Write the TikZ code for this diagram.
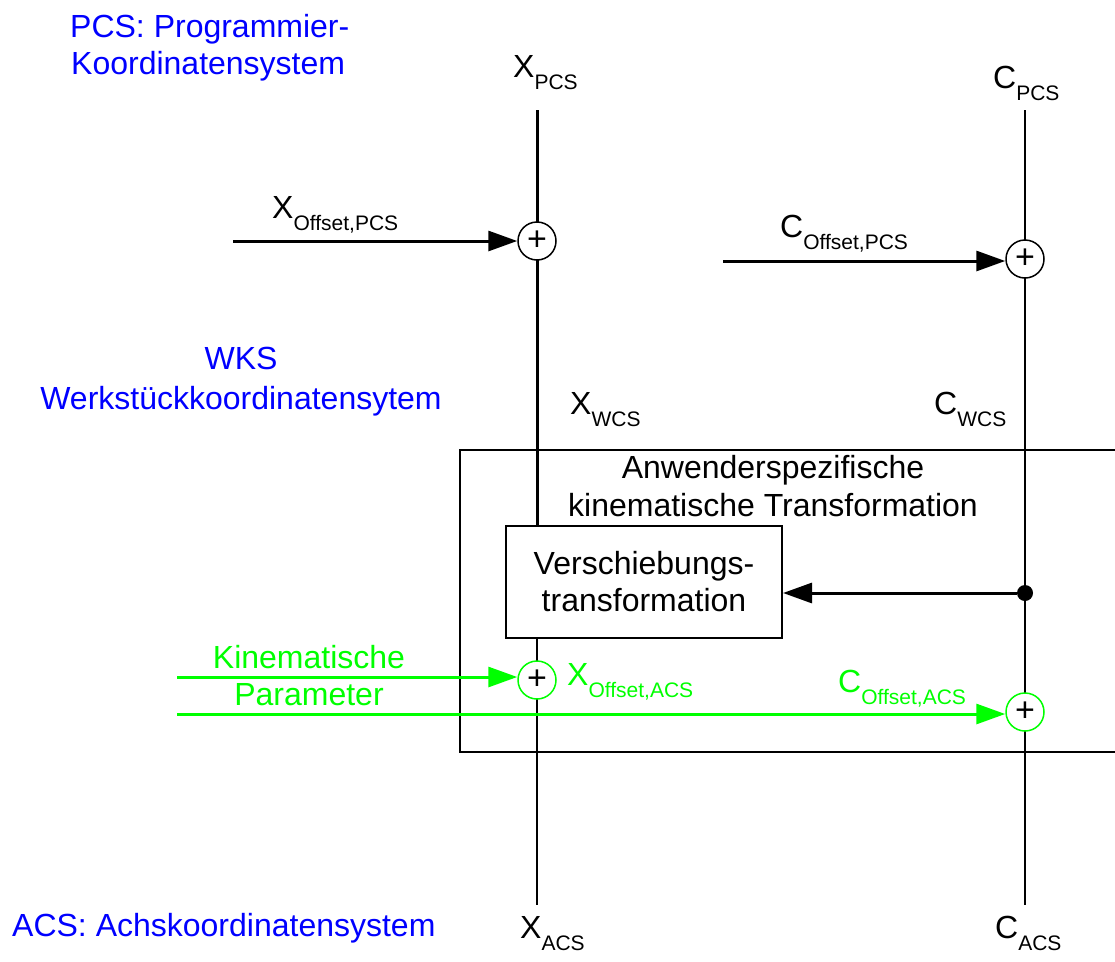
\documentclass[tikz,border=0pt]{standalone}
\usepackage{fontspec}
\setmainfont{Liberation Sans}
\usetikzlibrary{arrows.meta}
\definecolor{sigblue}{RGB}{0,0,255}
\definecolor{siggreen}{RGB}{0,255,0}
% symbol with lowered index, e.g. X_PCS
\newcommand\symidx[2]{#1\raisebox{-12pt}{\fontsize{21}{21}\selectfont #2}}
\tikzset{
  every node/.style={font=\fontsize{32}{37}\selectfont, inner sep=0pt},
  sumnode/.style={circle, draw, fill=white, line width=1.5pt, minimum size=38pt,
                  font=\fontsize{34}{34}\selectfont, text=black},
  sigline/.style={line width=2pt},
  sigarrow/.style={line width=3pt, -{Triangle[length=29pt,width=20pt]}},
  blocktxt/.style={align=center},
}
\begin{document}
\begin{tikzpicture}[x=1pt,y=-1pt]
\useasboundingbox (0,0) rectangle (1115,961);

% coordinate system labels
\node[anchor=base west, text=sigblue] (pcsA) at (70,37) {PCS: Programmier-};
\node[anchor=base west, text=sigblue] (pcsB) at (71,74) {Koordinatensystem};
\node[anchor=base, text=sigblue] (wksA) at (241,369) {WKS};
\node[anchor=base, text=sigblue] (wksB) at (241,409) {Werkstückkoordinatensytem};
\node[anchor=base west, text=sigblue] (acs) at (12,936) {ACS: Achskoordinatensystem};

% axis end points
\coordinate (xt) at (537,110);
\coordinate (xb) at (537,905);
\coordinate (ct) at (1025,110);
\coordinate (cb) at (1025,905);

% user specific kinematic transformation block (open to the right)
\draw[sigline] (1116,450) -| (460,752) -- (1116,752);
\node[anchor=base, blocktxt] (kinA) at (773,478) {Anwenderspezifische};
\node[anchor=base, blocktxt] (kinB) at (773,516) {kinematische Transformation};

% shift transformation
\node[draw, line width=2pt, minimum width=276pt, minimum height=112pt, blocktxt]
  (vbox) at (644,582) {Verschiebungs-\\transformation};

% axes
\draw[line width=3pt] (xt) -- (vbox.north -| xt);
\draw[sigline] (vbox.south -| xt) -- (xb);
\draw[sigline] (ct) -- (cb);

% summation points
\node[sumnode] (sx1) at (537,241) {+};
\node[sumnode] (sc1) at (1025,259) {+};
\node[sumnode, draw=siggreen] (sx2) at (537,680) {+};
\node[sumnode, draw=siggreen] (sc2) at (1025,712) {+};
\node[circle, fill=black, minimum size=16pt] (dot) at (1025,593) {};

% offset inputs
\coordinate (xoff) at (233,241);
\coordinate (coff) at (723,261);
\coordinate (kp1) at (177,677);
\coordinate (kp2) at (177,714);
\draw[sigarrow] (xoff) -- (xoff -| sx1.west);
\draw[sigarrow] (coff) -- (coff -| sc1.west);
\draw[sigarrow] (dot) -- (dot -| vbox.east);
\draw[sigarrow, siggreen] (kp1) -- (kp1 -| sx2.west);
\draw[sigarrow, siggreen] (kp2) -- (kp2 -| sc2.west);

\node[anchor=base, text=siggreen] (parA) at (309,668) {Kinematische};
\node[anchor=base, text=siggreen] (parB) at (309,705) {Parameter};

% signal labels
\node[anchor=base west] (lxpcs) at (513,77) {\symidx{X}{PCS}};
\node[anchor=base west] (lcpcs) at (993,88) {\symidx{C}{PCS}};
\node[anchor=base west] (lxop) at (272,218) {\symidx{X}{Offset,PCS}};
\node[anchor=base west] (lcop) at (780,237) {\symidx{C}{Offset,PCS}};
\node[anchor=base west] (lxwcs) at (570,414) {\symidx{X}{WCS}};
\node[anchor=base west] (lcwcs) at (934,414) {\symidx{C}{WCS}};
\node[anchor=base west, text=siggreen] (lxoa) at (567,685) {\symidx{X}{Offset,ACS}};
\node[anchor=base west, text=siggreen] (lcoa) at (838,692) {\symidx{C}{Offset,ACS}};
\node[anchor=base west] (lxacs) at (520,938) {\symidx{X}{ACS}};
\node[anchor=base west] (lcacs) at (995,938) {\symidx{C}{ACS}};
\end{tikzpicture}
\end{document}
